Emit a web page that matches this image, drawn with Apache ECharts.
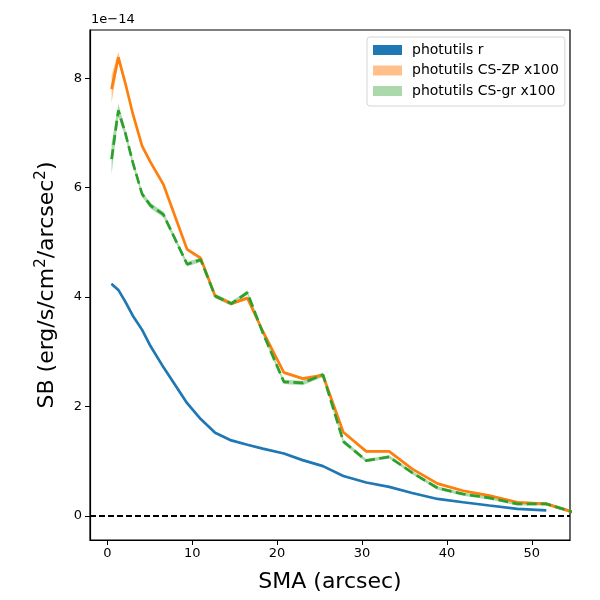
<!DOCTYPE html>
<html>
<head>
<meta charset="utf-8">
<script src="https://cdn.jsdelivr.net/npm/echarts@6/dist/echarts.min.js"></script>
<style>
  html, body { margin: 0; padding: 0; background: #fff; }
  #chart { width: 600px; height: 600px; }
</style>
</head>
<body>
<div id="chart"></div>
<script>
// SMA in arcsec, SB in units of 1e-14
const sma = [0.5, 1.3, 2.1, 3.0, 4.1, 5.1, 6.6, 9.4, 11.0, 12.7, 14.6, 16.5, 18.3,
  20.8, 23.0, 25.4, 27.8, 30.5, 33.2, 35.9, 38.9, 41.9, 45.0, 48.3, 51.7, 55.5];

const sbR = [4.24, 4.13, 3.92, 3.66, 3.40, 3.10, 2.72, 2.06, 1.77, 1.52, 1.38, 1.30, 1.23,
  1.14, 1.02, 0.91, 0.73, 0.61, 0.53, 0.42, 0.31, 0.25, 0.19, 0.13, 0.10];
const errR = [0.02, 0.02, 0.01, 0.01, 0.01, 0.01, 0.01, 0.01, 0.01, 0.01, 0.01, 0.01, 0.01,
  0.01, 0.01, 0.01, 0.01, 0.01, 0.01, 0.01, 0.01, 0.01, 0.01, 0.01, 0.01];

const sbZP = [7.80, 8.38, 7.92, 7.35, 6.76, 6.46, 6.06, 4.87, 4.71, 4.02, 3.88, 3.98, 3.38,
  2.62, 2.51, 2.57, 1.53, 1.18, 1.18, 0.86, 0.59, 0.46, 0.37, 0.25, 0.22, 0.04];
const errZP = [0.25, 0.10, 0.06, 0.05, 0.04, 0.04, 0.04, 0.03, 0.03, 0.03, 0.03, 0.03, 0.03,
  0.03, 0.03, 0.03, 0.02, 0.02, 0.02, 0.02, 0.02, 0.02, 0.02, 0.02, 0.02, 0.02];

const sbGR = [6.52, 7.41, 7.01, 6.46, 5.88, 5.67, 5.51, 4.60, 4.68, 4.02, 3.88, 4.08, 3.35,
  2.45, 2.43, 2.58, 1.36, 1.01, 1.08, 0.79, 0.51, 0.40, 0.33, 0.22, 0.22, 0.04];
const errGR = [0.28, 0.12, 0.07, 0.06, 0.05, 0.05, 0.05, 0.04, 0.04, 0.04, 0.04, 0.04, 0.04,
  0.04, 0.04, 0.04, 0.04, 0.03, 0.03, 0.03, 0.03, 0.03, 0.03, 0.03, 0.03, 0.03];

const xTicks = [0, 10, 20, 30, 40, 50];
const yTicks = [0, 2, 4, 6, 8];

const font = 'DejaVu Sans';

function pts(vals) {
  return vals.map((v, i) => [sma[i], v]);
}
function band(vals, errs) {
  return vals.map((v, i) => [sma[i], v - errs[i], v + errs[i]]);
}

// whole band as one polygon, built with the axis scales
function bandSeries(name, vals, errs, color, opacity) {
  const rows = band(vals, errs);
  return {
    name: name,
    type: 'custom',
    clip: true,
    silent: true,
    encode: { x: 0, y: [1, 2] },
    data: rows,
    renderItem: function (params, api) {
      if (params.dataIndex !== 0) return;
      const lower = rows.map(r => api.coord([r[0], r[1]]));
      const upper = rows.map(r => api.coord([r[0], r[2]])).reverse();
      return {
        type: 'polygon',
        shape: { points: lower.concat(upper) },
        style: { fill: color, opacity: opacity }
      };
    }
  };
}

function lineSeries(name, vals, color, dashed) {
  return {
    name: name,
    type: 'line',
    data: pts(vals),
    showSymbol: false,
    symbol: 'none',
    clip: true,
    lineStyle: { color: color, width: 2.7, type: dashed ? [10, 4.4] : 'solid' },
    z: 3
  };
}

const chart = echarts.init(document.getElementById('chart'));

const option = {
  animation: false,
  backgroundColor: '#fff',
  grid: {
    left: 90, top: 30, width: 480, height: 510,
    show: true, borderColor: '#000', borderWidth: 1.2, backgroundColor: 'transparent'
  },
  legend: {
    orient: 'vertical',
    left: 367, top: 37,
    padding: [6, 6, 8, 6],
    borderColor: '#d5d5d5', borderWidth: 1, borderRadius: 3,
    backgroundColor: '#fff',
    itemWidth: 29, itemHeight: 10, itemGap: 6.5,
    textStyle: { fontFamily: font, fontSize: 14, color: '#000', padding: [0, 0, 0, 5] },
    data: [
      { name: 'photutils r', icon: 'rect', itemStyle: { color: '#1f77b4' } },
      { name: 'photutils CS-ZP x100', icon: 'rect', itemStyle: { color: '#ffc08b' } },
      { name: 'photutils CS-gr x100', icon: 'rect', itemStyle: { color: '#abd9ab' } }
    ]
  },
  xAxis: {
    type: 'value',
    min: -2.04, max: 54.5,
    name: 'SMA (arcsec)',
    nameLocation: 'middle',
    nameGap: 31,
    nameTextStyle: { fontFamily: font, fontSize: 22, color: '#000' },
    splitLine: { show: false },
    axisLine: { show: true, onZero: false, lineStyle: { color: '#000', width: 1.2 } },
    axisTick: { show: true, customValues: xTicks, length: 5, lineStyle: { color: '#000' } },
    axisLabel: { customValues: xTicks, fontFamily: font, fontSize: 13, color: '#000', margin: 7 }
  },
  yAxis: {
    type: 'value',
    min: -0.44, max: 8.88,
    name: 'SB (erg/s/cm{sup|2}/arcsec{sup|2})',
    nameLocation: 'middle',
    nameGap: 30,
    nameTextStyle: {
      fontFamily: font, fontSize: 22, color: '#000',
      rich: { sup: { fontFamily: font, fontSize: 15, color: '#000', padding: [0, 0, 11, 0] } }
    },
    splitLine: { show: false },
    axisLine: { show: true, onZero: false, lineStyle: { color: '#000', width: 1.2 } },
    axisTick: { show: true, customValues: yTicks, length: 5, lineStyle: { color: '#000' } },
    axisLabel: { customValues: yTicks, fontFamily: font, fontSize: 13, color: '#000', margin: 8 }
  },
  graphic: [{
    type: 'text',
    left: 91, top: 13,
    style: { text: '1e\u221214', fontFamily: font, fontSize: 13, fill: '#000' }
  }],
  series: [
    {
      name: 'zero',
      type: 'line',
      data: [[-2.04, 0], [54.5, 0]],
      symbol: 'none',
      lineStyle: { color: '#000', width: 2, type: [6, 3] },
      z: 1
    },
    bandSeries('photutils r', sbR, errR, '#1f77b4', 1),
    lineSeries('r line', sbR, '#1f77b4', false),
    bandSeries('photutils CS-ZP x100', sbZP, errZP, '#ff7f0e', 0.45),
    lineSeries('ZP line', sbZP, '#ff7f0e', false),
    bandSeries('photutils CS-gr x100', sbGR, errGR, '#2ca02c', 0.4),
    lineSeries('gr line', sbGR, '#2ca02c', true)
  ]
};

chart.setOption(option);
</script>
</body>
</html>
